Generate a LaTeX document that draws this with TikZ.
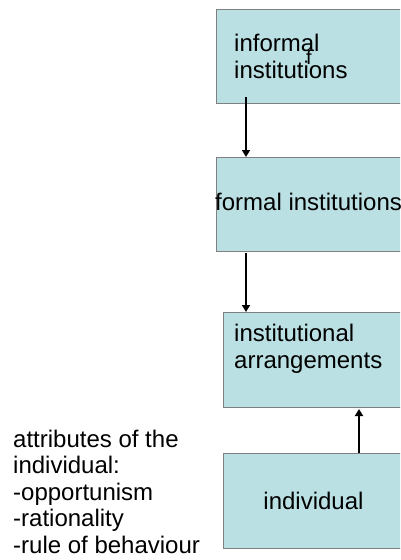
\documentclass[tikz,border=0pt]{standalone}
\usepackage{fontspec}
\setmainfont{Liberation Sans}
\usetikzlibrary{arrows.meta}
\definecolor{boxfill}{HTML}{BBE0E3}
\definecolor{boxline}{HTML}{808080}

\begin{document}
\begin{tikzpicture}[x=1pt,y=-1pt,
  box/.style={draw=boxline, line width=1pt, fill=boxfill, rectangle,
              inner sep=0pt, anchor=north west, minimum height=94pt},
  lbl/.style={inner sep=0pt, anchor=base west, font=\fontsize{24}{26.6}\selectfont},
  link/.style={line width=1.8pt, -{Triangle[width=8pt,length=7pt]}}]
\useasboundingbox (0,0) rectangle (400,560);
\clip (0,0) rectangle (400,560);

% the four stacked boxes (running off the right-hand edge)
\node[box, minimum width=190pt] (b1) at (216,9) {};
\node[box, minimum width=190pt] (b2) at (216,157) {};
\node[box, minimum width=183pt, minimum height=95pt] (b3) at (223,312) {};
\node[box, minimum width=183pt, minimum height=95pt] (b4) at (223,453) {};

% box texts
\node[lbl] (t1a) at (234,51) {informal};
\node[lbl] (t1b) at (234,78) {institutions};
\node[inner sep=0pt, anchor=base, font=\fontsize{20}{20}\selectfont] (t1f) at (309,64.5) {f};
\node[lbl] (t2) at (215,210) {formal institutions};
\node[lbl] (t3a) at (234,341) {institutional};
\node[lbl] (t3b) at (234,368) {arrangements};
\node[lbl, anchor=base] (t4) at (313.5,509) {individual};

% attributes listed beside the bottom box
\node[lbl] (a1) at (13,447) {attributes of the};
\node[lbl] (a2) at (13,473.6) {individual:};
\node[lbl] (a3) at (13,500.2) {-opportunism};
\node[lbl] (a4) at (13,526.8) {-rationality};
\node[lbl] (a5) at (13,553.4) {-rule of behaviour};

% connectors
\coordinate (c1) at (246,97);
\coordinate (c2) at (246,253);
\coordinate (c3) at (359,453);
\draw[link] (c1) -- (c1 |- b2.north);
\draw[link] (c2) -- (c2 |- b3.north);
\draw[link] (c3 |- b4.north) -- ([yshift=-1pt]c3 |- b3.south);
\end{tikzpicture}
\end{document}
